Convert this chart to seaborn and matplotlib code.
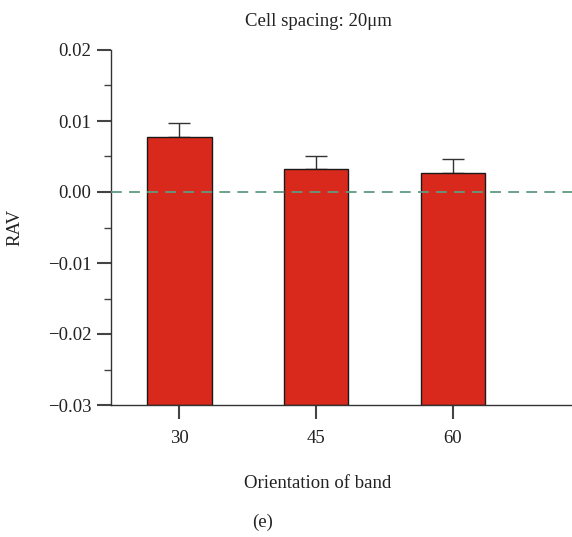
import matplotlib
matplotlib.use("Agg")
import matplotlib.pyplot as plt
import seaborn as sns
import pandas as pd
from matplotlib.ticker import MultipleLocator

orientations = ["30", "45", "60"]
rav_mean = [0.0077, 0.0032, 0.0027]
rav_err = [0.0020, 0.0019, 0.0019]
y_min, y_max = -0.03, 0.02

title = "Cell spacing: 20μm"
xlabel = "Orientation of band"
ylabel = "RAV"
panel = "(e)"

sns.set_theme(style="ticks")
plt.rcParams['font.family'] = ['Liberation Serif', 'DejaVu Serif']

# bars are drawn from the bottom of the axis (y_min) up to each mean
df = pd.DataFrame({"orientation": orientations,
                   "height": [v - y_min for v in rav_mean]})

fig = plt.figure(figsize=(5.72, 5.37), dpi=100)
ax = fig.add_axes([111/572, 1-405/537, 1-111/572, (405-50)/537])

sns.barplot(data=df, x="orientation", y="height", color="#d9291c", saturation=1,
            width=0.47, edgecolor="#1a1a1a", linewidth=1.0, errorbar=None, ax=ax,
            bottom=y_min, zorder=2)
ax.errorbar(range(len(orientations)), rav_mean, yerr=[[0]*len(rav_err), rav_err],
            fmt="none", ecolor="#333333", elinewidth=1.0, capsize=8, capthick=1.0,
            zorder=1)
ax.axhline(0, color="#5f9a80", linestyle=(0, (6, 4)), linewidth=1.3, zorder=3)

ax.set_ylim(y_min, y_max)
ax.set_xlim(-0.5, 2.87)
ax.yaxis.set_major_locator(MultipleLocator(0.01))
ax.yaxis.set_minor_locator(MultipleLocator(0.005))
ax.set_yticks([-0.03, -0.02, -0.01, 0.0, 0.01, 0.02])
ax.set_yticklabels([f"{v:.2f}".replace("-", "\u2212") for v in ax.get_yticks()])

for s in ["top", "right"]:
    ax.spines[s].set_visible(False)
for s in ["left", "bottom"]:
    ax.spines[s].set_color("#333333")
    ax.spines[s].set_linewidth(1.0)

ax.tick_params(axis="both", which="major", direction="out", length=10, width=1.5,
               color="#444444", labelsize=13.5, labelcolor="#222222", pad=4)
ax.tick_params(axis="y", which="minor", direction="out", length=5, width=1.0,
               color="#444444")
ax.tick_params(axis="x", which="major", length=10, pad=8)

ax.set_xlabel("")
ax.set_ylabel(ylabel, fontsize=13.5, color="#222222", labelpad=0)
ax.yaxis.set_label_coords(-0.19, 0.5)

fig.text(318/572, 1-22/537, title, ha="center", va="center", fontsize=13.5, color="#222222")
fig.text(318/572, 1-483/537, xlabel, ha="center", va="center", fontsize=13.5, color="#222222")
fig.text(263/572, 1-522/537, panel, ha="center", va="center", fontsize=13.5, color="#222222")

fig.savefig("out.png", dpi=100)
